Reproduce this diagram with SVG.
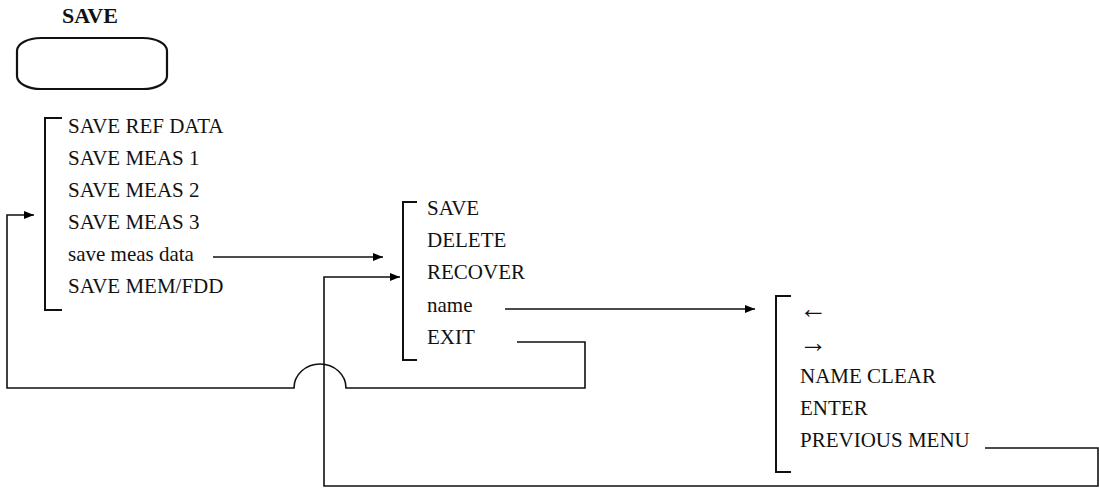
<svg xmlns="http://www.w3.org/2000/svg" width="1099" height="488" viewBox="0 0 1099 488">
<defs>
<marker id="ah" markerUnits="userSpaceOnUse" markerWidth="12" markerHeight="10" refX="10" refY="5" orient="auto">
<path d="M0,1 L10,5 L0,9 Z" fill="#000"/>
</marker>
<style>
.t{font-family:"Liberation Serif","Times New Roman",serif;font-size:21px;fill:#111}
.b{font-weight:bold;font-size:22px}
.a{font-size:28px}
.br{fill:none;stroke:#111;stroke-width:2}
.c{fill:none;stroke:#111;stroke-width:1.6}
</style>
</defs>
<rect width="1099" height="488" fill="#fff"/>
<g id="save-key">
<text class="t b" x="62" y="23">SAVE</text>
<rect x="17" y="38" width="150" height="51" rx="24" ry="13" fill="none" stroke="#111" stroke-width="2.2"/>
</g>
<g id="menu-save">
<path class="br" d="M62,118 H45 V310 H62"/>
<text class="t" x="68" y="133">SAVE REF DATA</text>
<text class="t" x="68" y="165">SAVE MEAS 1</text>
<text class="t" x="68" y="197">SAVE MEAS 2</text>
<text class="t" x="68" y="229">SAVE MEAS 3</text>
<text class="t" x="68" y="261">save meas data</text>
<text class="t" x="68" y="293">SAVE MEM/FDD</text>
</g>
<g id="menu-meas-data">
<path class="br" d="M417,202 H403 V360 H417"/>
<text class="t" x="427" y="215">SAVE</text>
<text class="t" x="427" y="247">DELETE</text>
<text class="t" x="427" y="279">RECOVER</text>
<text class="t" x="427" y="312">name</text>
<text class="t" x="427" y="344">EXIT</text>
</g>
<g id="menu-name">
<path class="br" d="M791,296 H776 V472 H791"/>
<text class="t a" x="799" y="318">←</text>
<text class="t a" x="799" y="352">→</text>
<text class="t" x="800" y="383">NAME CLEAR</text>
<text class="t" x="800" y="415">ENTER</text>
<text class="t" x="800" y="447">PREVIOUS MENU</text>
</g>
<g id="connectors">
<path class="c" d="M213,257 H383" marker-end="url(#ah)"/>
<path class="c" d="M505,309 H755" marker-end="url(#ah)"/>
<path class="c" d="M517,342 H585 V388 H346 A26,24 0 0 0 294,388 H7 V215 H34" marker-end="url(#ah)"/>
<path class="c" d="M985,448 H1098 V486 H324 V277 H400" marker-end="url(#ah)"/>
</g>
</svg>
